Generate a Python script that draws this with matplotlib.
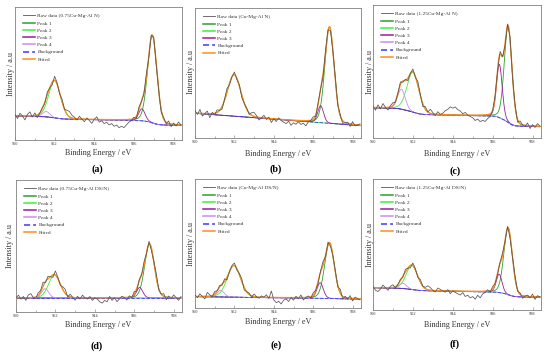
import numpy as np
import matplotlib
matplotlib.use("Agg")
import matplotlib.pyplot as plt
from matplotlib.ticker import FixedLocator, MultipleLocator

plt.rcParams['font.family'] = ['Liberation Serif', 'DejaVu Serif']

# ---------------- data ----------------
sample_names = ["0.75Cu-Mg-Al N", "Cu-Mg-Al N", "1.25Cu-Mg-Al N",
                "0.75Cu-Mg-Al DS/N", "Cu-Mg-Al DS/N", "1.25Cu-Mg-Al DS/N"]
panel_tags = ["(a)", "(b)", "(c)", "(d)", "(e)", "(f)"]
x_ticks = [960, 952, 944, 936, 928]
peak_labels = ["Peak 1", "Peak 2", "Peak 3", "Peak 4"]

# fitted components (Peak 1..4): centre / eV, height (relative), FWHM / eV
a_centers = [932.3, 952.0, 934.4, 953.7]
a_heights = [0.66, 0.28, 0.09, 0.04]
a_fwhm = [2.2, 2.8, 1.5, 1.7]
b_centers = [932.7, 952.05, 934.5]
b_heights = [0.74, 0.32, 0.13]
b_fwhm = [2.2, 3.2, 1.4]
c_centers = [932.9, 952.0, 934.65, 954.3]
c_heights = [0.72, 0.30, 0.40, 0.15]
c_fwhm = [1.8, 2.8, 1.35, 1.8]
d_centers = [932.9, 952.2, 934.9, 954.1]
d_heights = [0.41, 0.175, 0.08, 0.07]
d_fwhm = [2.3, 2.8, 1.5, 1.7]
e_centers = [932.7, 952.1, 934.6, 954.8]
e_heights = [0.43, 0.245, 0.12, 0.05]
e_fwhm = [2.3, 3.2, 1.5, 1.7]
f_centers = [932.9, 952.2, 934.7, 954.0]
f_heights = [0.51, 0.185, 0.14, 0.04]
f_fwhm = [2.0, 2.7, 1.35, 1.7]

# background: level at 960 eV, level at low-BE end, Shirley share
a_background = [0.18, 0.11, 0.7]
b_background = [0.19, 0.095, 0.0]
c_background = [0.227, 0.085, 0.85]
d_background = [0.106, 0.106, 0.0]
e_background = [0.088, 0.070, 0.3]
f_background = [0.17, 0.097, 0.7]

# raw data minus fit (x0.01), sampled every 0.5 eV from 960 eV downwards
a_residual = [1, -2, 2, 0, -3, 1, 3, -1, 2, -2,
              0, 1, -1, 2, 0, -2, 3, 1, -1, 2,
              0, 3, 4, 2, 1, -1, 2, 0, -2, 1,
              -1, -3, 0, 2, -2, -1, -3, -2, -4, -3,
              -5, -4, -6, -5, -6, -4, -2, -1, 1, -2,
              2, 0, -1, 3, -2, 1, 2, -1, 0, -2,
              1, -1, 2, -2, 1, -1, 2, 0]
b_residual = [2, -1, 3, -2, 0, 2, -3, 1, -1, 2,
              0, -2, 1, 3, -1, 0, 2, -1, 1, -2,
              0, 1, -1, 2, 3, 1, -2, 0, 2, -1,
              1, -3, 0, -2, 1, -1, -2, -3, -1, -4,
              -2, -3, -1, -3, -2, -4, -1, 0, 2, -1,
              1, 0, -2, 2, 1, -1, 0, 2, -1, 1,
              -2, 0, 1, -2, 2, -1, 0, 1]
c_residual = [1, -2, 2, -1, 3, 0, -2, 1, 2, -1,
              0, 2, -1, 1, -2, 0, 2, -1, 3, 1,
              -2, 2, 0, 3, 1, -1, 2, 0, 1, 3,
              4, 6, 5, 6, 4, 3, 1, 2, 0, -1,
              -2, -4, -3, -5, -4, -5, -3, -2, 0, 1,
              -1, 2, 0, -2, 1, 2, -1, 1, -2, 2,
              0, -1, 2, -2, 1, -1, 2, 0]
d_residual = [0, 2, -1, 1, -2, 2, 3, 0, -1, 2,
              1, 3, -1, 2, 0, -2, 3, 1, -1, 2,
              3, -1, 2, 0, -2, 1, -1, 2, 0, -1,
              1, -2, 0, -1, -3, -4, -2, -3, 1, -2,
              0, -3, -1, 1, 0, -2, 1, -1, 2, -2,
              1, 0, 3, -1, 2, -2, 1, 3, -1, 0,
              2, -2, 1, -1, 2, 0, -2, 1]
e_residual = [1, -1, 2, 0, -2, 3, 1, -1, 2, 0,
              1, -1, 2, -2, 0, 1, 2, -1, 1, 2,
              -2, 0, 1, -1, 2, 0, -1, 1, 0, 2,
              -1, 5, -2, -4, -3, -5, -2, -1, -3, 0,
              -2, 1, -1, 2, -2, 0, 1, -1, 2, 0,
              -2, 1, 3, -1, 2, -2, 0, 1, -1, 3,
              -2, 1, -1, 2, -2, 1, 0, -1]
f_residual = [1, -2, -3, -1, 2, 0, -2, 1, 2, -1,
              0, 1, -1, 2, 0, -2, 2, 1, -1, 2,
              0, 1, 3, 2, 0, -1, 2, 1, 0, -1,
              1, -2, 0, -1, -2, -3, -1, -4, -3, -5,
              -4, -6, -3, -5, -2, -1, 1, -1, 2, 0,
              -2, 1, 2, -1, 1, -2, 0, 2, -1, 1,
              -2, 0, 1, -1, 2, -2, 1, 0]

# ---------------- layout (pixels) ----------------
W, H = 550, 352
axes_px = [(15, 182, 7, 140), (195, 361, 8, 138), (373, 541, 5, 138),
           (16, 182, 180, 312), (195, 361, 179, 308), (373, 541, 179, 310)]
xlabel_px = [(98, 153), (278, 154), (457, 154), (98, 325), (278, 322), (457, 325)]
ylabel_px = [(11, 74), (191, 72), (370, 72), (10, 246), (191, 244), (370, 245)]
tag_px = [(97, 169), (276, 169), (455, 171), (97, 346), (276, 345), (455, 344)]

panels = [
    (a_centers, a_heights, a_fwhm, a_background, a_residual),
    (b_centers, b_heights, b_fwhm, b_background, b_residual),
    (c_centers, c_heights, c_fwhm, c_background, c_residual),
    (d_centers, d_heights, d_fwhm, d_background, d_residual),
    (e_centers, e_heights, e_fwhm, e_background, e_residual),
    (f_centers, f_heights, f_fwhm, f_background, f_residual),
]

raw_color = '#555555'
peak_colors = ['#2f9e2f', '#3cf03c', '#9a1e9a', '#c890f0']
bg_color = '#3a3aff'
fit_color = '#ff8c1a'


def component(E, c, h, w, eta=0.15):
    d = (E - c) / w
    return h * (eta / (1 + 4 * d * d) + (1 - eta) * np.exp(-4 * np.log(2) * d * d))


fig = plt.figure(figsize=(W / 100, H / 100), dpi=100)

for i, (centers, heights, fwhm, bgp, res) in enumerate(panels):
    l, r, t, b = axes_px[i]
    ax = fig.add_axes([l / W, 1 - b / H, (r - l) / W, (b - t) / H])

    n = len(res)
    E = 960.0 - 0.05 * np.arange((n - 1) * 10 + 1)
    comps = [component(E, c, h, w) for c, h, w in zip(centers, heights, fwhm)]
    total = np.sum(comps, axis=0)
    cum = np.cumsum(total[::-1])[::-1]
    frac = cum / cum[0]
    lin = (E - E.min()) / (E.max() - E.min())
    left, right, s = bgp
    bg = right + (left - right) * ((1 - s) * lin + s * frac)
    fit = bg + total
    raw = fit[::10] + np.array(res) * 0.01

    ax.plot(E[::10], raw, color=raw_color, lw=0.55, zorder=5,
            label=f"Raw data ({sample_names[i]})")
    for k, comp in enumerate(comps):
        ax.plot(E, bg + comp, color=peak_colors[k], lw=0.6, zorder=2,
                label=peak_labels[k])
    ax.plot(E, bg, color=bg_color, lw=0.6, ls=(0, (4, 2)), zorder=3,
            label="Background")
    ax.plot(E, fit, color=fit_color, lw=0.95, zorder=4, label="Fitted")

    ax.set_xlim(960, 926.3)
    ax.set_ylim(0, 1)
    ax.set_yticks([])
    ax.xaxis.set_major_locator(FixedLocator(x_ticks))
    ax.xaxis.set_minor_locator(MultipleLocator(4))
    ax.tick_params(axis='x', which='both', direction='in', width=0.4,
                   color='#777777', labelsize=3.2, pad=1.5, labelcolor='#333333')
    ax.tick_params(axis='x', which='major', length=2.2)
    ax.tick_params(axis='x', which='minor', length=1.6)
    for sp in ax.spines.values():
        sp.set_color('#808080')
        sp.set_linewidth(0.6)

    aw, ah = r - l, b - t
    leg = ax.legend(loc='upper left', bbox_to_anchor=(8 / aw, 1 - 6.5 / ah),
                    frameon=False, fontsize=3.9, borderpad=0, borderaxespad=0,
                    handlelength=2.2, handletextpad=0.45, labelspacing=0.45)
    for txt in leg.get_texts():
        txt.set_color('#333333')
    for k, ln in enumerate(leg.get_lines()):
        ln.set_linewidth(0.6 if k == 0 else 1.1)

    xl, yl = xlabel_px[i]
    fig.text(xl / W, 1 - yl / H, "Binding Energy / eV", fontsize=5.8,
             ha='center', va='center', color='#333333')
    xl, yl = ylabel_px[i]
    fig.text(xl / W, 1 - yl / H, "Intensity / a.u", fontsize=5.8, rotation=90,
             ha='center', va='center', color='#333333')
    xl, yl = tag_px[i]
    fig.text(xl / W, 1 - yl / H, panel_tags[i], fontsize=7.2, fontweight='bold',
             ha='center', va='center', color='black')

fig.savefig("out.png", dpi=100)
